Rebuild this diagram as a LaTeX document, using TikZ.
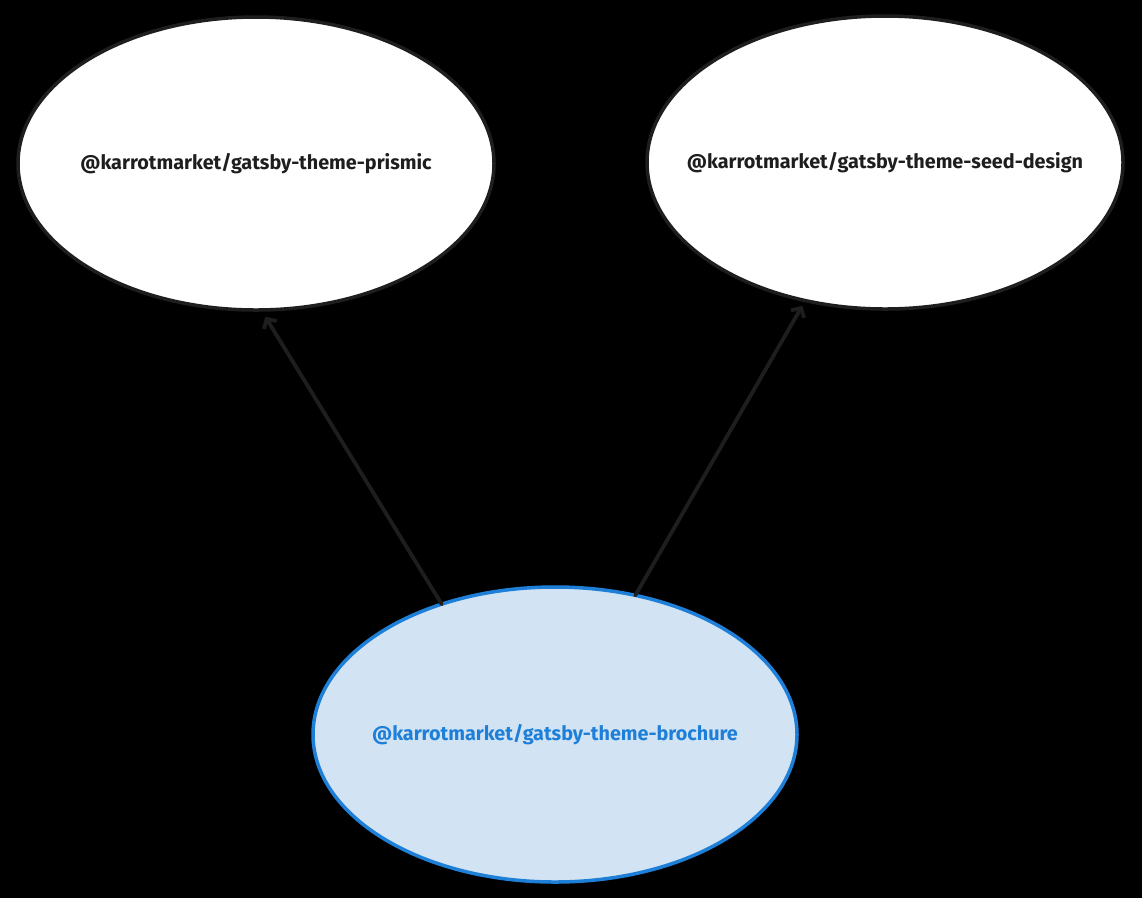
\documentclass[tikz,border=0pt]{standalone}
\usepackage{fontspec}
\setmainfont{Fira Sans}
\usetikzlibrary{arrows.meta,shapes.geometric}
\definecolor{inkdark}{HTML}{1E1E1E}
\definecolor{inkblue}{HTML}{1E7FD8}
\definecolor{fillblue}{HTML}{D2E3F4}
\newcommand{\pkgname}[1]{\makebox[0pt]{#1}}

\begin{document}
\begin{tikzpicture}[x=1pt,y=-1pt,
  every node/.style={ellipse,draw=inkdark,fill=white,line width=3.5pt,
    inner sep=0pt,outer sep=0pt,text=inkdark,
    font=\fontsize{19.8}{24}\selectfont\bfseries}]
  \fill[black] (0,0) rectangle (1142,898);
  \useasboundingbox (0,0) rectangle (1142,898);

  \node[minimum width=476pt,minimum height=293pt] (pri) at (256,163.5) {\pkgname{@karrotmarket/gatsby-theme-prismic}};
  \node[minimum width=476pt,minimum height=293pt] (seed) at (885,162.5) {\pkgname{@karrotmarket/gatsby-theme-seed-design}};
  \node[minimum width=484pt,minimum height=295pt,draw=inkblue,fill=fillblue,text=inkblue] (bro) at (555,734.5) {\pkgname{@karrotmarket/gatsby-theme-brochure}};

  \path[every edge/.style={draw=inkdark,line width=3.8pt,line cap=round,
      -{Straight Barb[length=7pt,width=15pt]}}]
    (bro.131) edge [shorten >=8pt] (pri.-88)
    (bro.60) edge [shorten >=6pt] (seed.-120);
\end{tikzpicture}
\end{document}
